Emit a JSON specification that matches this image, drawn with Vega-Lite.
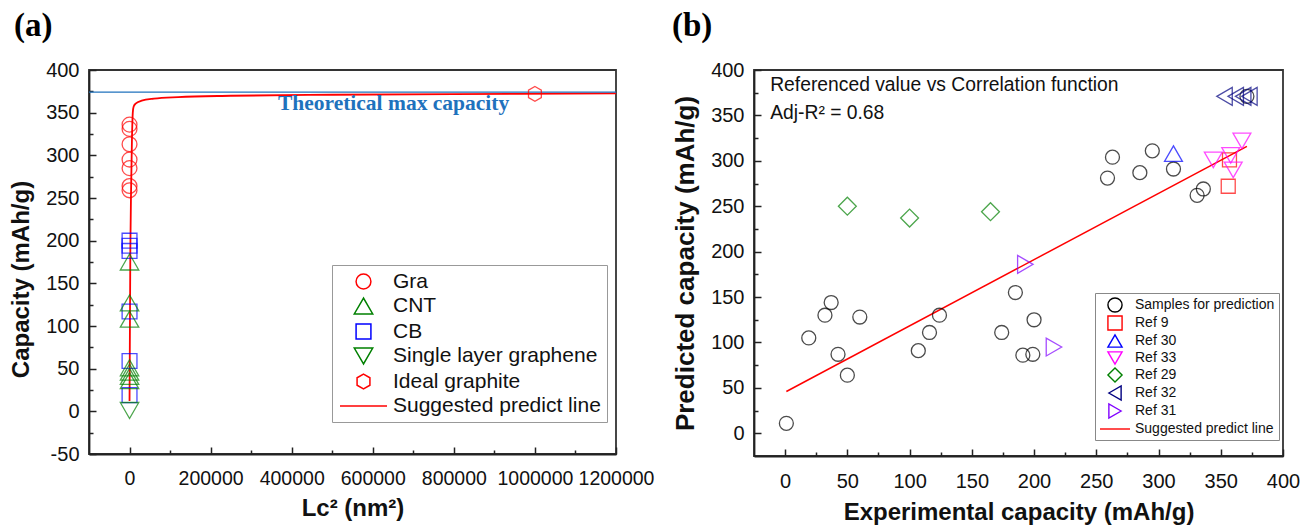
{
  "$schema": "https://vega.github.io/schema/vega-lite/v6.json",
  "padding": {"left": 8, "top": 9, "right": 5, "bottom": 0},
  "background": "white",
  "datasets": {
    "a_pts": [
      {"lc2": 0, "cap": 336, "series": "Gra"},
      {"lc2": 0, "cap": 331, "series": "Gra"},
      {"lc2": 0, "cap": 313, "series": "Gra"},
      {"lc2": 0, "cap": 295, "series": "Gra"},
      {"lc2": 0, "cap": 285, "series": "Gra"},
      {"lc2": 0, "cap": 264, "series": "Gra"},
      {"lc2": 0, "cap": 259, "series": "Gra"},
      {"lc2": 0, "cap": 175, "series": "CNT"},
      {"lc2": 0, "cap": 127, "series": "CNT"},
      {"lc2": 0, "cap": 108, "series": "CNT"},
      {"lc2": 0, "cap": 51, "series": "CNT"},
      {"lc2": 0, "cap": 46, "series": "CNT"},
      {"lc2": 0, "cap": 41, "series": "CNT"},
      {"lc2": 0, "cap": 36, "series": "CNT"},
      {"lc2": 0, "cap": 200, "series": "CB"},
      {"lc2": 0, "cap": 194, "series": "CB"},
      {"lc2": 0, "cap": 188, "series": "CB"},
      {"lc2": 0, "cap": 117, "series": "CB"},
      {"lc2": 0, "cap": 59, "series": "CB"},
      {"lc2": 0, "cap": 19, "series": "CB"},
      {"lc2": 0, "cap": 1, "series": "Single layer graphene"},
      {"lc2": 1000000, "cap": 372, "series": "Ideal graphite"}
    ],
    "a_line": [
      {"lc2": 0, "cap": 12, "series": "Suggested predict line"},
      {"lc2": 2000, "cap": 190, "series": "Suggested predict line"},
      {"lc2": 4000, "cap": 265, "series": "Suggested predict line"},
      {"lc2": 6000, "cap": 320, "series": "Suggested predict line"},
      {"lc2": 8000, "cap": 350, "series": "Suggested predict line"},
      {"lc2": 10000, "cap": 357, "series": "Suggested predict line"},
      {"lc2": 15000, "cap": 360.5, "series": "Suggested predict line"},
      {"lc2": 30000, "cap": 364, "series": "Suggested predict line"},
      {"lc2": 60000, "cap": 366.5, "series": "Suggested predict line"},
      {"lc2": 120000, "cap": 368.3, "series": "Suggested predict line"},
      {"lc2": 250000, "cap": 369.8, "series": "Suggested predict line"},
      {"lc2": 500000, "cap": 371, "series": "Suggested predict line"},
      {"lc2": 800000, "cap": 371.8, "series": "Suggested predict line"},
      {"lc2": 1200000, "cap": 372.5, "series": "Suggested predict line"}
    ],
    "a_max": [
      {"cap": 374}
    ],
    "a_text": [
      {"lc2": 366000, "cap": 353.6, "label": "Theoretical max capacity"}
    ],
    "b_pts": [
      {"exp": 1, "pred": 11, "series": "Samples for prediction"},
      {"exp": 19, "pred": 105, "series": "Samples for prediction"},
      {"exp": 32, "pred": 130, "series": "Samples for prediction"},
      {"exp": 37, "pred": 144, "series": "Samples for prediction"},
      {"exp": 42.5, "pred": 87, "series": "Samples for prediction"},
      {"exp": 50, "pred": 64, "series": "Samples for prediction"},
      {"exp": 60, "pred": 128, "series": "Samples for prediction"},
      {"exp": 107, "pred": 91, "series": "Samples for prediction"},
      {"exp": 116, "pred": 111, "series": "Samples for prediction"},
      {"exp": 124, "pred": 130, "series": "Samples for prediction"},
      {"exp": 174, "pred": 111, "series": "Samples for prediction"},
      {"exp": 185, "pred": 155, "series": "Samples for prediction"},
      {"exp": 191, "pred": 86, "series": "Samples for prediction"},
      {"exp": 199, "pred": 87, "series": "Samples for prediction"},
      {"exp": 200, "pred": 125, "series": "Samples for prediction"},
      {"exp": 259, "pred": 281, "series": "Samples for prediction"},
      {"exp": 263, "pred": 304, "series": "Samples for prediction"},
      {"exp": 285, "pred": 287, "series": "Samples for prediction"},
      {"exp": 295, "pred": 311, "series": "Samples for prediction"},
      {"exp": 312, "pred": 291, "series": "Samples for prediction"},
      {"exp": 331, "pred": 262, "series": "Samples for prediction"},
      {"exp": 336, "pred": 269, "series": "Samples for prediction"},
      {"exp": 371, "pred": 371, "series": "Samples for prediction"},
      {"exp": 357, "pred": 301, "series": "Ref 9"},
      {"exp": 356, "pred": 272, "series": "Ref 9"},
      {"exp": 312, "pred": 308, "series": "Ref 30"},
      {"exp": 367, "pred": 322, "series": "Ref 33"},
      {"exp": 344, "pred": 301, "series": "Ref 33"},
      {"exp": 358, "pred": 306, "series": "Ref 33"},
      {"exp": 360, "pred": 290, "series": "Ref 33"},
      {"exp": 50, "pred": 250, "series": "Ref 29"},
      {"exp": 100, "pred": 237, "series": "Ref 29"},
      {"exp": 165, "pred": 244, "series": "Ref 29"},
      {"exp": 353, "pred": 371, "series": "Ref 32"},
      {"exp": 362, "pred": 371, "series": "Ref 32"},
      {"exp": 368, "pred": 371, "series": "Ref 32"},
      {"exp": 373, "pred": 371, "series": "Ref 32"},
      {"exp": 193, "pred": 186, "series": "Ref 31"},
      {"exp": 216, "pred": 95, "series": "Ref 31"}
    ],
    "b_line": [
      {"exp": 1, "pred": 46, "series": "Suggested predict line"},
      {"exp": 371, "pred": 316, "series": "Suggested predict line"}
    ],
    "b_text": [
      {"exp": -12, "pred": 377, "label": "Referenced value vs Correlation function"},
      {"exp": -12, "pred": 346, "label": "Adj-R² = 0.68"}
    ]
  },
  "hconcat": [
    {
      "width": 527,
      "height": 384,
      "title": {"text": "(a)", "anchor": "start", "frame": "group", "dx": -75, "offset": 17, "font": "Liberation Serif", "fontSize": 33, "fontWeight": "bold", "color": "black"},
      "resolve": {"axis": {"x": "independent", "y": "independent"}},
      "layer": [
        {
          "data": {"name": "a_line"},
          "mark": {"type": "line", "strokeWidth": 1.8, "interpolate": "monotone"},
          "encoding": {
            "x": {"field": "lc2", "type": "quantitative", "scale": {"domain": [-100000, 1200000], "nice": false}, "axis": null},
            "y": {"field": "cap", "type": "quantitative", "scale": {"domain": [-50, 400], "nice": false}, "axis": null},
            "color": {"field": "series", "type": "nominal",
              "scale": {"domain": ["Gra", "CNT", "CB", "Single layer graphene", "Ideal graphite", "Suggested predict line"], "range": ["#ff0000", "#008000", "#0000ff", "#008000", "#ff0000", "#ff0000"]},
              "legend": {"title": null, "orient": "none", "legendX": 243, "legendY": 195, "labelFont": "Liberation Sans", "labelFontSize": 21, "labelColor": "#111", "labelLimit": 400, "strokeColor": "#999", "fillColor": "white", "padding": 6, "rowPadding": 2.5, "symbolOffset": 15, "labelOffset": 19, "symbolStrokeWidth": 1.5,
                "encode": {"symbols": {"update": {"size": {"signal": "datum.value === 'Suggested predict line' ? 2209 : (datum.value === 'CNT' || datum.value === 'Single layer graphene' ? 340 : 220)"}}}}}
            }
          }
        },
        {
          "data": {"name": "a_max"},
          "mark": {"type": "rule", "color": "#1f72bd", "strokeWidth": 1.3},
          "encoding": {
            "y": {"field": "cap", "type": "quantitative", "scale": {"domain": [-50, 400], "nice": false}, "axis": null}
          }
        },
        {
          "data": {"name": "a_pts"},
          "transform": [{"filter": {"field": "series", "oneOf": ["Gra", "CB", "Ideal graphite"]}}],
          "mark": {"type": "point", "filled": false, "size": 220, "strokeWidth": 1.3},
          "encoding": {
            "x": {"field": "lc2", "type": "quantitative", "scale": {"domain": [-100000, 1200000], "nice": false},
              "axis": {"orient": "bottom", "values": [0, 200000, 400000, 600000, 800000, 1000000, 1200000], "labelExpr": "'' + datum.value", "labelOverlap": false, "labelFlush": false, "labelFontSize": 19.5, "labelPadding": 22, "title": "Lc² (nm²)", "titlePadding": 9}},
            "y": {"field": "cap", "type": "quantitative", "scale": {"domain": [-50, 400], "nice": false},
              "axis": {"orient": "left", "values": [-50, 0, 50, 100, 150, 200, 250, 300, 350, 400], "labelExpr": "'' + datum.value", "labelOverlap": false, "labelFlush": false, "title": "Capacity (mAh/g)", "titlePadding": 12, "titleY": 209}},
            "color": {"field": "series", "type": "nominal",
              "scale": {"domain": ["Gra", "CNT", "CB", "Single layer graphene", "Ideal graphite", "Suggested predict line"], "range": ["#ff0000", "#008000", "#0000ff", "#008000", "#ff0000", "#ff0000"]},
              "legend": {"title": null, "orient": "none", "legendX": 243, "legendY": 195, "labelFont": "Liberation Sans", "labelFontSize": 21, "labelColor": "#111", "labelLimit": 400, "strokeColor": "#999", "fillColor": "white", "padding": 6, "rowPadding": 2.5, "symbolOffset": 15, "labelOffset": 19, "symbolStrokeWidth": 1.5,
                "encode": {"symbols": {"update": {"size": {"signal": "datum.value === 'Suggested predict line' ? 2209 : (datum.value === 'CNT' || datum.value === 'Single layer graphene' ? 340 : 220)"}}}}}
            },
            "shape": {"field": "series", "type": "nominal",
              "scale": {"domain": ["Gra", "CNT", "CB", "Single layer graphene", "Ideal graphite", "Suggested predict line"], "range": ["circle", "triangle-up", "square", "triangle-down", "M0,-1L0.866,-0.5L0.866,0.5L0,1L-0.866,0.5L-0.866,-0.5Z", "stroke"]},
              "legend": {"title": null, "orient": "none", "legendX": 243, "legendY": 195, "labelFont": "Liberation Sans", "labelFontSize": 21, "labelColor": "#111", "labelLimit": 400, "strokeColor": "#999", "fillColor": "white", "padding": 6, "rowPadding": 2.5, "symbolOffset": 15, "labelOffset": 19, "symbolStrokeWidth": 1.5,
                "encode": {"symbols": {"update": {"size": {"signal": "datum.value === 'Suggested predict line' ? 2209 : (datum.value === 'CNT' || datum.value === 'Single layer graphene' ? 340 : 220)"}}}}}
            }
          }
        },
        {
          "data": {"name": "a_pts"},
          "transform": [{"filter": {"field": "series", "oneOf": ["CNT", "Single layer graphene"]}}],
          "mark": {"type": "point", "filled": false, "size": 340, "strokeWidth": 1.3},
          "encoding": {
            "x": {"field": "lc2", "type": "quantitative", "scale": {"domain": [-100000, 1200000], "nice": false}, "axis": null},
            "y": {"field": "cap", "type": "quantitative", "scale": {"domain": [-50, 400], "nice": false}, "axis": null},
            "color": {"field": "series", "type": "nominal",
              "scale": {"domain": ["Gra", "CNT", "CB", "Single layer graphene", "Ideal graphite", "Suggested predict line"], "range": ["#ff0000", "#008000", "#0000ff", "#008000", "#ff0000", "#ff0000"]},
              "legend": {"title": null, "orient": "none", "legendX": 243, "legendY": 195, "labelFont": "Liberation Sans", "labelFontSize": 21, "labelColor": "#111", "labelLimit": 400, "strokeColor": "#999", "fillColor": "white", "padding": 6, "rowPadding": 2.5, "symbolOffset": 15, "labelOffset": 19, "symbolStrokeWidth": 1.5,
                "encode": {"symbols": {"update": {"size": {"signal": "datum.value === 'Suggested predict line' ? 2209 : (datum.value === 'CNT' || datum.value === 'Single layer graphene' ? 340 : 220)"}}}}}
            },
            "shape": {"field": "series", "type": "nominal",
              "scale": {"domain": ["Gra", "CNT", "CB", "Single layer graphene", "Ideal graphite", "Suggested predict line"], "range": ["circle", "triangle-up", "square", "triangle-down", "M0,-1L0.866,-0.5L0.866,0.5L0,1L-0.866,0.5L-0.866,-0.5Z", "stroke"]},
              "legend": {"title": null, "orient": "none", "legendX": 243, "legendY": 195, "labelFont": "Liberation Sans", "labelFontSize": 21, "labelColor": "#111", "labelLimit": 400, "strokeColor": "#999", "fillColor": "white", "padding": 6, "rowPadding": 2.5, "symbolOffset": 15, "labelOffset": 19, "symbolStrokeWidth": 1.5,
                "encode": {"symbols": {"update": {"size": {"signal": "datum.value === 'Suggested predict line' ? 2209 : (datum.value === 'CNT' || datum.value === 'Single layer graphene' ? 340 : 220)"}}}}}
            }
          }
        },
        {
          "data": {"name": "a_text"},
          "mark": {"type": "text", "align": "left", "baseline": "alphabetic", "font": "Liberation Serif", "fontSize": 21.5, "fontWeight": "bold", "color": "#1f72bd"},
          "encoding": {
            "x": {"field": "lc2", "type": "quantitative", "scale": {"domain": [-100000, 1200000], "nice": false},
              "axis": {"orient": "bottom", "values": [100000, 300000, 500000, 700000, 900000, 1100000], "labels": false, "domain": false, "tickSize": -4, "title": null, "offset": 0}},
            "y": {"field": "cap", "type": "quantitative", "scale": {"domain": [-50, 400], "nice": false},
              "axis": {"orient": "left", "values": [-25, 25, 75, 125, 175, 225, 275, 325, 375], "labels": false, "domain": false, "tickSize": -4, "title": null, "offset": 0}},
            "text": {"field": "label"}
          }
        }
      ]
    },
    {
      "width": 529,
      "height": 386,
      "title": {"text": "(b)", "anchor": "start", "frame": "group", "dx": -82, "offset": 17, "font": "Liberation Serif", "fontSize": 33, "fontWeight": "bold", "color": "black"},
      "resolve": {"axis": {"x": "independent", "y": "independent"}},
      "layer": [
        {
          "data": {"name": "b_line"},
          "mark": {"type": "line", "strokeWidth": 1.5},
          "encoding": {
            "x": {"field": "exp", "type": "quantitative", "scale": {"domain": [-25, 400], "nice": false}, "axis": null},
            "y": {"field": "pred", "type": "quantitative", "scale": {"domain": [-25, 400], "nice": false}, "axis": null},
            "color": {"field": "series", "type": "nominal",
              "scale": {"domain": ["Samples for prediction", "Ref 9", "Ref 30", "Ref 33", "Ref 29", "Ref 32", "Ref 31", "Suggested predict line"], "range": ["#000000", "#ff0000", "#0000ff", "#ff00ff", "#008000", "#000080", "#8000ff", "#ff0000"]},
              "legend": {"title": null, "orient": "none", "legendX": 341, "legendY": 223, "labelFont": "Liberation Sans", "labelFontSize": 14, "labelColor": "#111", "labelLimit": 400, "strokeColor": "#888", "fillColor": "white", "padding": 4, "rowPadding": -2.5, "symbolOffset": 8, "labelOffset": 12, "symbolStrokeWidth": 1.4,
                "encode": {"symbols": {"update": {"size": {"signal": "datum.value === 'Suggested predict line' ? 900 : 200"}}}}}
            }
          }
        },
        {
          "data": {"name": "b_pts"},
          "transform": [{"filter": {"field": "series", "oneOf": ["Samples for prediction", "Ref 9"]}}],
          "mark": {"type": "point", "filled": false, "size": 195, "strokeWidth": 1.3},
          "encoding": {
            "x": {"field": "exp", "type": "quantitative", "scale": {"domain": [-25, 400], "nice": false},
              "axis": {"orient": "bottom", "values": [0, 50, 100, 150, 200, 250, 300, 350, 400], "labelExpr": "'' + datum.value", "labelOverlap": false, "labelFlush": false, "labelPadding": 22, "title": "Experimental capacity (mAh/g)", "titlePadding": 9}},
            "y": {"field": "pred", "type": "quantitative", "scale": {"domain": [-25, 400], "nice": false},
              "axis": {"orient": "left", "values": [0, 50, 100, 150, 200, 250, 300, 350, 400], "labelExpr": "'' + datum.value", "labelOverlap": false, "labelFlush": false, "title": "Predicted capacity (mAh/g)", "titlePadding": 12, "titleFontSize": 26}},
            "color": {"field": "series", "type": "nominal",
              "scale": {"domain": ["Samples for prediction", "Ref 9", "Ref 30", "Ref 33", "Ref 29", "Ref 32", "Ref 31", "Suggested predict line"], "range": ["#000000", "#ff0000", "#0000ff", "#ff00ff", "#008000", "#000080", "#8000ff", "#ff0000"]},
              "legend": {"title": null, "orient": "none", "legendX": 341, "legendY": 223, "labelFont": "Liberation Sans", "labelFontSize": 14, "labelColor": "#111", "labelLimit": 400, "strokeColor": "#888", "fillColor": "white", "padding": 4, "rowPadding": -2.5, "symbolOffset": 8, "labelOffset": 12, "symbolStrokeWidth": 1.4,
                "encode": {"symbols": {"update": {"size": {"signal": "datum.value === 'Suggested predict line' ? 900 : 200"}}}}}
            },
            "shape": {"field": "series", "type": "nominal",
              "scale": {"domain": ["Samples for prediction", "Ref 9", "Ref 30", "Ref 33", "Ref 29", "Ref 32", "Ref 31", "Suggested predict line"], "range": ["circle", "square", "triangle-up", "triangle-down", "diamond", "triangle-left", "triangle-right", "stroke"]},
              "legend": {"title": null, "orient": "none", "legendX": 341, "legendY": 223, "labelFont": "Liberation Sans", "labelFontSize": 14, "labelColor": "#111", "labelLimit": 400, "strokeColor": "#888", "fillColor": "white", "padding": 4, "rowPadding": -2.5, "symbolOffset": 8, "labelOffset": 12, "symbolStrokeWidth": 1.4,
                "encode": {"symbols": {"update": {"size": {"signal": "datum.value === 'Suggested predict line' ? 900 : 200"}}}}}
            }
          }
        },
        {
          "data": {"name": "b_pts"},
          "transform": [{"filter": {"field": "series", "oneOf": ["Ref 30", "Ref 33", "Ref 29", "Ref 32", "Ref 31"]}}],
          "mark": {"type": "point", "filled": false, "size": 320, "strokeWidth": 1.3},
          "encoding": {
            "x": {"field": "exp", "type": "quantitative", "scale": {"domain": [-25, 400], "nice": false}, "axis": null},
            "y": {"field": "pred", "type": "quantitative", "scale": {"domain": [-25, 400], "nice": false}, "axis": null},
            "color": {"field": "series", "type": "nominal",
              "scale": {"domain": ["Samples for prediction", "Ref 9", "Ref 30", "Ref 33", "Ref 29", "Ref 32", "Ref 31", "Suggested predict line"], "range": ["#000000", "#ff0000", "#0000ff", "#ff00ff", "#008000", "#000080", "#8000ff", "#ff0000"]},
              "legend": {"title": null, "orient": "none", "legendX": 341, "legendY": 223, "labelFont": "Liberation Sans", "labelFontSize": 14, "labelColor": "#111", "labelLimit": 400, "strokeColor": "#888", "fillColor": "white", "padding": 4, "rowPadding": -2.5, "symbolOffset": 8, "labelOffset": 12, "symbolStrokeWidth": 1.4,
                "encode": {"symbols": {"update": {"size": {"signal": "datum.value === 'Suggested predict line' ? 900 : 200"}}}}}
            },
            "shape": {"field": "series", "type": "nominal",
              "scale": {"domain": ["Samples for prediction", "Ref 9", "Ref 30", "Ref 33", "Ref 29", "Ref 32", "Ref 31", "Suggested predict line"], "range": ["circle", "square", "triangle-up", "triangle-down", "diamond", "triangle-left", "triangle-right", "stroke"]},
              "legend": {"title": null, "orient": "none", "legendX": 341, "legendY": 223, "labelFont": "Liberation Sans", "labelFontSize": 14, "labelColor": "#111", "labelLimit": 400, "strokeColor": "#888", "fillColor": "white", "padding": 4, "rowPadding": -2.5, "symbolOffset": 8, "labelOffset": 12, "symbolStrokeWidth": 1.4,
                "encode": {"symbols": {"update": {"size": {"signal": "datum.value === 'Suggested predict line' ? 900 : 200"}}}}}
            }
          }
        },
        {
          "data": {"name": "b_text"},
          "mark": {"type": "text", "align": "left", "baseline": "alphabetic", "font": "Liberation Sans", "fontSize": 19.3, "color": "#111"},
          "encoding": {
            "x": {"field": "exp", "type": "quantitative", "scale": {"domain": [-25, 400], "nice": false},
              "axis": {"orient": "bottom", "values": [25, 75, 125, 175, 225, 275, 325, 375], "labels": false, "domain": false, "tickSize": -4, "title": null, "offset": 0}},
            "y": {"field": "pred", "type": "quantitative", "scale": {"domain": [-25, 400], "nice": false},
              "axis": {"orient": "left", "values": [25, 75, 125, 175, 225, 275, 325, 375], "labels": false, "domain": false, "tickSize": -4, "title": null, "offset": 0}},
            "text": {"field": "label"}
          }
        }
      ]
    }
  ],
  "spacing": 138,
  "bounds": "flush",
  "resolve": {
    "scale": {"color": "independent", "shape": "independent"},
    "legend": {"color": "independent", "shape": "independent"}
  },
  "config": {
    "font": "Liberation Sans",
    "view": {"stroke": "#333", "strokeWidth": 1.8},
    "axis": {
      "grid": false,
      "labelFlush": false,
      "domainColor": "#222",
      "domainWidth": 1.8,
      "tickColor": "#222",
      "tickWidth": 1.5,
      "tickSize": -7,
      "labelFont": "Liberation Sans",
      "labelFontSize": 20,
      "labelColor": "#111",
      "labelPadding": 17,
      "titleFont": "Liberation Sans",
      "titleFontSize": 24,
      "titleFontWeight": "bold",
      "titleColor": "#111"
    }
  }
}
